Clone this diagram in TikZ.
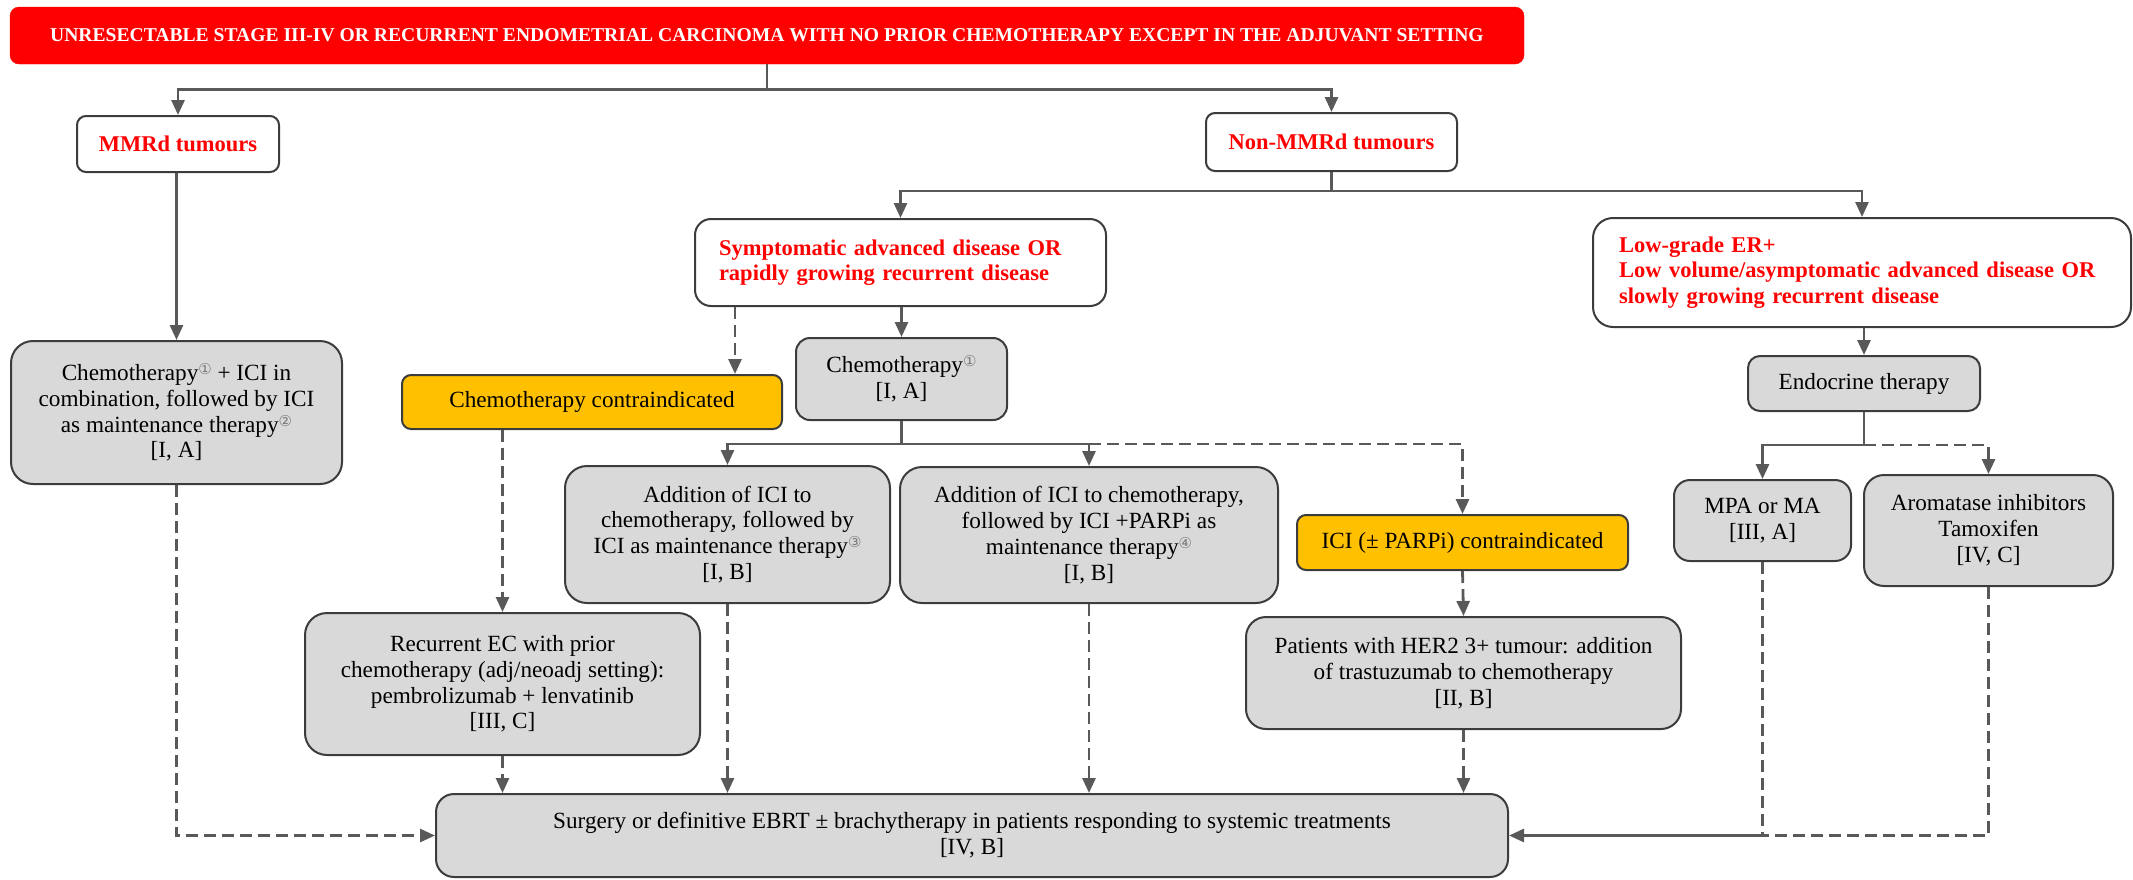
\documentclass[tikz,border=0pt]{standalone}
\usepackage{fontspec}
\setmainfont{Liberation Serif}
\newfontfamily\djv{DejaVu Sans}
\usetikzlibrary{arrows.meta}
\definecolor{titlered}{HTML}{FF0000}
\definecolor{boxgray}{HTML}{D9D9D9}
\definecolor{boxorange}{HTML}{FFC000}
\definecolor{linec}{HTML}{595959}
\definecolor{bordc}{HTML}{3C3C3C}
\definecolor{numgray}{HTML}{7A7A7A}
\newcommand{\bodyfs}{\fontsize{23.2}{25.8}\selectfont}
\newcommand{\redfs}{\fontsize{22.5}{25.5}\selectfont\bfseries\color{titlered}}
\newcommand{\cnum}[1]{\raisebox{6pt}{\fontsize{15}{15}\selectfont\djv\color{numgray}#1}}
\begin{document}
\begin{tikzpicture}[x=1pt,y=-1pt,
  arr/.style={draw=linec, line width=2.8pt, -{Triangle[length=15pt,width=13pt]}},
  darr/.style={arr, dash pattern=on 12pt off 6pt},
  dline/.style={draw=linec, line width=2.8pt, dash pattern=on 12pt off 6pt},
  gbox/.style={draw=bordc, line width=2pt, fill=boxgray, align=center, inner sep=0pt, font=\bodyfs, text=black},
  obox/.style={gbox, fill=boxorange, rounded corners=9pt},
  wbox/.style={draw=bordc, line width=2pt, fill=white, inner sep=0pt, font=\redfs},
]
\useasboundingbox (0,0) rectangle (2133,879);

% title
\node[fill=titlered, draw=titlered, rounded corners=9pt, minimum width=1514pt, minimum height=57pt, inner sep=0pt,
      font=\fontsize{19.6}{22}\selectfont\bfseries, text=white] (title) at (767,35.5)
  {UNRESECTABLE STAGE III-IV OR RECURRENT ENDOMETRIAL CARCINOMA WITH NO PRIOR CHEMOTHERAPY EXCEPT IN THE ADJUVANT SETTING};

% level 1
\node[wbox, rounded corners=9pt, minimum width=202pt, minimum height=56pt] (mmrd) at (178,144) {MMRd tumours};
\node[wbox, rounded corners=9pt, minimum width=251pt, minimum height=58pt] (nonmmrd) at (1331.5,142) {Non-MMRd tumours};

% level 2
\node[wbox, rounded corners=16pt, minimum height=87pt, text width=363pt, inner xsep=24pt, align=left] (sympt) at (900.5,262.5)
  {Symptomatic advanced disease OR\\rapidly growing recurrent disease};
\node[wbox, rounded corners=20pt, minimum height=109pt, text width=486pt, inner xsep=26pt, align=left] (lowgrade) at (1862,272.5)
  {Low-grade ER+\\Low volume/asymptomatic advanced disease OR\\slowly growing recurrent disease};

% gray / orange boxes
\node[gbox, rounded corners=22pt, minimum width=331pt, minimum height=143pt] (chemoici) at (176.5,412.5)
  {Chemotherapy\cnum{①} + ICI in\\combination, followed by ICI\\as maintenance therapy\cnum{②}\\{}[I, A]};
\node[obox, minimum width=380pt, minimum height=54pt] (chemocontra) at (592,402) {Chemotherapy contraindicated};
\node[gbox, rounded corners=14pt, minimum width=211pt, minimum height=82pt] (chemo) at (901.5,379)
  {Chemotherapy\cnum{①}\\{}[I, A]};
\node[gbox, rounded corners=22pt, minimum width=325pt, minimum height=137pt] (add1) at (727.5,534.5)
  {Addition of ICI to\\chemotherapy, followed by\\ICI as maintenance therapy\cnum{③}\\{}[I, B]};
\node[gbox, rounded corners=22pt, minimum width=378pt, minimum height=136pt] (add2) at (1089,535)
  {Addition of ICI to chemotherapy,\\followed by ICI +PARPi as\\maintenance therapy\cnum{④}\\{}[I, B]};
\node[obox, minimum width=331pt, minimum height=55pt] (icicontra) at (1462.5,542.5) {ICI (± PARPi) contraindicated};
\node[gbox, rounded corners=20pt, minimum width=435pt, minimum height=112pt] (her2) at (1463.5,673)
  {Patients with HER2 3+ tumour: addition\\of trastuzumab to chemotherapy\\{}[II, B]};
\node[gbox, rounded corners=22pt, minimum width=395pt, minimum height=142pt] (recec) at (502.5,684)
  {Recurrent EC with prior\\chemotherapy (adj/neoadj setting):\\pembrolizumab + lenvatinib\\{}[III, C]};
\node[gbox, rounded corners=12pt, minimum width=232pt, minimum height=55pt] (endo) at (1864,383.5) {Endocrine therapy};
\node[gbox, rounded corners=16pt, minimum width=177pt, minimum height=81pt] (mpa) at (1762.5,520.5) {MPA or MA\\{}[III, A]};
\node[gbox, rounded corners=20pt, minimum width=249pt, minimum height=111pt] (arom) at (1988.5,530.5)
  {Aromatase inhibitors\\Tamoxifen\\{}[IV, C]};
\node[gbox, rounded corners=18pt, minimum width=1072pt, minimum height=83pt] (final) at (972,835.5)
  {Surgery or definitive EBRT ± brachytherapy in patients responding to systemic treatments\\{}[IV, B]};

% connectors
\draw[arr] (title.south) -- ++(0,25) -| (mmrd.north);
\draw[arr] (title.south) -- ++(0,25) -| (nonmmrd.north);
\draw[arr] (nonmmrd.south) -- ++(0,19) -| (sympt.north);
\draw[arr] (nonmmrd.south) -- ++(0,19) -| (lowgrade.north);
\draw[arr] (mmrd.south -| chemoici.north) -- (chemoici.north);
\draw[arr] (sympt.south -| chemo.north) -- (chemo.north);
\coordinate (cc) at (735,0);
\draw[darr] (sympt.south -| cc) -- (chemocontra.north -| cc);
\draw[arr] (chemo.south) -- ++(0,23) coordinate (j2) -| (add1.north);
\draw[arr] (j2) -| (add2.north);
\draw[darr] (j2 -| add2.north) -| (icicontra.north);
\draw[darr] (icicontra.south) -- (her2.north);
\draw[darr] (chemocontra.south -| recec.north) -- (recec.north);
\draw[arr] (lowgrade.south -| endo.north) -- (endo.north);
\draw[arr] (endo.south) -- ++(0,33) coordinate (j3) -| (mpa.north);
\draw[darr] (j3) -| (arom.north);
\draw[darr] (chemoici.south) |- (final.west);
\draw[darr] (recec.south) -- (recec.south |- final.north);
\draw[darr] (add1.south) -- (add1.south |- final.north);
\draw[darr] (add2.south) -- (add2.south |- final.north);
\draw[darr] (her2.south) -- (her2.south |- final.north);
\draw[dline] (mpa.south) -- (mpa.south |- final.east) coordinate (j5);
\draw[dline] (arom.south) |- (j5);
\draw[arr] (j5) -- (final.east);
\end{tikzpicture}
\end{document}
